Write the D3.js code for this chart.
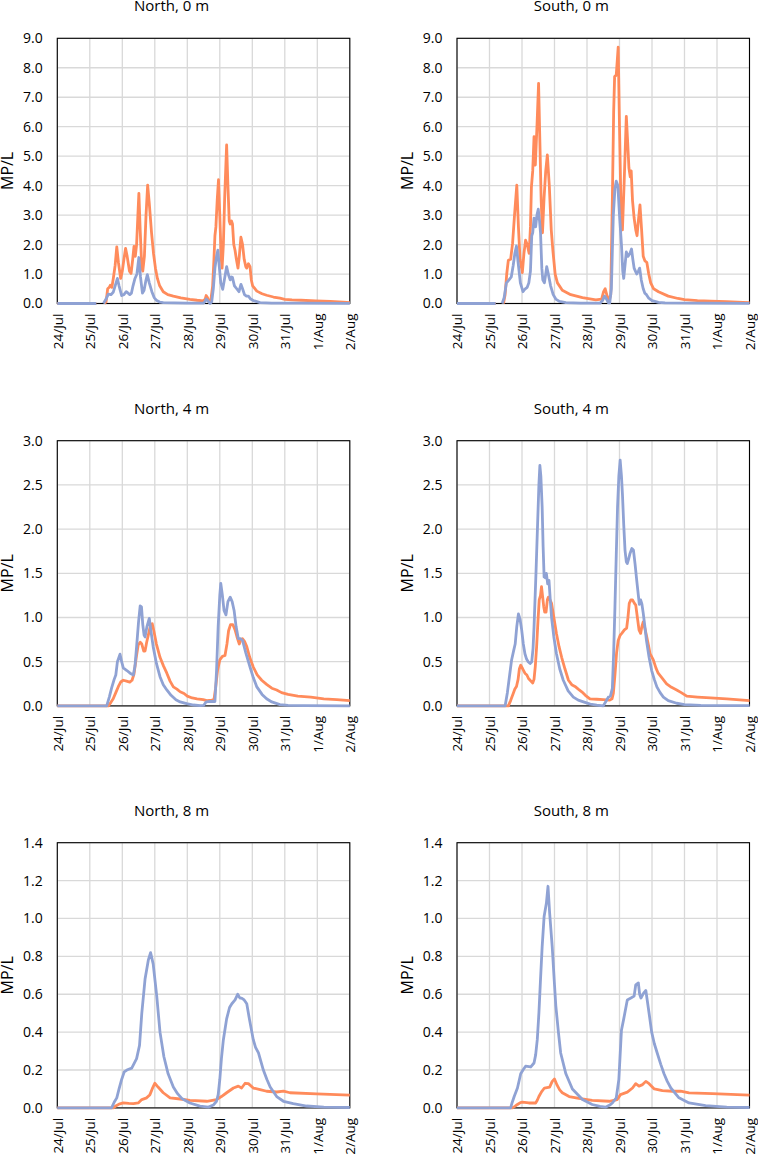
<!DOCTYPE html>
<html><head><meta charset="utf-8">
<script src="https://cdn.jsdelivr.net/npm/d3@7"></script>
<style>
body{margin:0;background:#fff}
text{font-family:"Open Sans",sans-serif;fill:#000}
</style>
</head><body>
<svg id="chart" width="758" height="1157"></svg>
<script>
// x values: days since 24/Jul 00:00
const dayLabels = ["24/Jul","25/Jul","26/Jul","27/Jul","28/Jul","29/Jul","30/Jul","31/Jul","1/Aug","2/Aug"];
const panelTitles = ["North, 0 m","South, 0 m","North, 4 m","South, 4 m","North, 8 m","South, 8 m"];
const yTicks0m = [0,1,2,3,4,5,6,7,8,9];
const yTicks4m = [0,0.5,1,1.5,2,2.5,3];
const yTicks8m = [0,0.2,0.4,0.6,0.8,1.0,1.2,1.4];
const yLabel = "MP/L";

const north0Orange = [[0,0],[1.2,0],[1.22,null],[1.45,0],[1.5,0.05],[1.55,0.5],[1.6,0.55],[1.63,0.62],[1.68,0.55],[1.73,0.9],[1.78,1.3],[1.83,1.92],[1.88,1.4],[1.95,0.85],[2.0,1.1],[2.05,1.5],[2.1,1.87],[2.15,1.6],[2.22,1.1],[2.27,1.02],[2.32,1.5],[2.36,1.94],[2.4,1.6],[2.44,2.0],[2.48,3.0],[2.51,3.74],[2.55,2.5],[2.6,1.2],[2.63,1.1],[2.68,1.6],[2.73,3.0],[2.78,4.02],[2.83,3.4],[2.9,2.4],[2.96,1.7],[3.02,1.2],[3.08,0.85],[3.15,0.6],[3.26,0.4],[3.4,0.3],[3.57,0.25],[3.8,0.19],[4.08,0.14],[4.3,0.11],[4.49,0.09],[4.55,0.15],[4.58,0.27],[4.62,0.2],[4.67,0.05],[4.72,0.08],[4.78,0.6],[4.82,1.5],[4.85,2.3],[4.88,2.6],[4.92,3.5],[4.96,4.2],[5.0,3.0],[5.04,1.6],[5.07,1.2],[5.11,2.0],[5.15,3.6],[5.21,5.38],[5.25,4.0],[5.29,2.8],[5.32,2.7],[5.36,2.8],[5.39,2.7],[5.43,2.0],[5.47,1.8],[5.51,1.5],[5.56,1.2],[5.6,1.6],[5.65,2.25],[5.7,2.0],[5.75,1.5],[5.8,1.25],[5.83,1.2],[5.88,1.35],[5.93,1.25],[5.97,0.8],[6.01,0.6],[6.14,0.42],[6.3,0.33],[6.44,0.28],[6.65,0.22],[6.85,0.18],[7.0,0.14],[7.22,0.12],[7.5,0.11],[7.95,0.09],[8.4,0.07],[8.8,0.05],[9.0,0.03]];
const north0Blue = [[0,0],[1.2,0],[1.22,null],[1.42,0],[1.5,0.15],[1.57,0.32],[1.65,0.3],[1.72,0.38],[1.78,0.6],[1.85,0.85],[1.9,0.6],[1.98,0.27],[2.05,0.3],[2.12,0.4],[2.18,0.35],[2.23,0.3],[2.28,0.35],[2.33,0.6],[2.39,0.85],[2.45,1.0],[2.51,1.56],[2.56,0.9],[2.62,0.35],[2.67,0.45],[2.72,0.75],[2.77,0.98],[2.83,0.7],[2.91,0.4],[2.98,0.2],[3.06,0.1],[3.15,0.05],[3.26,0.03],[3.6,0.02],[4.0,0.015],[4.5,0.01],[4.55,0.08],[4.58,0.15],[4.63,0.1],[4.7,0.0],[4.75,0.05],[4.8,0.5],[4.85,1.2],[4.9,1.6],[4.94,1.81],[4.98,1.3],[5.03,0.7],[5.09,0.48],[5.14,0.8],[5.21,1.25],[5.26,1.0],[5.32,0.8],[5.36,0.9],[5.39,0.88],[5.45,0.6],[5.52,0.5],[5.59,0.4],[5.65,0.65],[5.7,0.5],[5.76,0.3],[5.82,0.25],[5.88,0.25],[5.95,0.15],[6.03,0.1],[6.24,0.03],[6.6,0.015],[7.5,0.01],[9.0,0.005]];

const south0Orange = [[0,0],[1.19,0],[1.21,null],[1.43,0],[1.48,0.3],[1.53,1.0],[1.58,1.47],[1.65,1.5],[1.71,2.04],[1.77,3.0],[1.84,4.02],[1.89,2.6],[1.94,1.5],[2.01,1.05],[2.06,1.7],[2.11,2.15],[2.16,2.0],[2.22,1.7],[2.26,2.6],[2.29,3.96],[2.33,4.5],[2.37,5.66],[2.41,4.7],[2.46,6.0],[2.51,7.47],[2.55,5.5],[2.59,3.5],[2.63,2.4],[2.68,3.6],[2.73,4.5],[2.78,5.04],[2.84,4.0],[2.9,2.5],[2.95,1.8],[3.02,1.0],[3.09,0.7],[3.24,0.45],[3.5,0.3],[3.86,0.2],[4.27,0.12],[4.45,0.15],[4.51,0.4],[4.56,0.5],[4.62,0.25],[4.68,0.1],[4.73,0.3],[4.78,3.5],[4.82,6.5],[4.85,7.7],[4.9,7.75],[4.96,8.7],[5.0,6.0],[5.05,3.0],[5.09,2.5],[5.14,4.0],[5.21,6.35],[5.25,5.5],[5.29,4.6],[5.33,4.3],[5.36,4.5],[5.4,3.5],[5.45,2.9],[5.5,2.5],[5.54,2.3],[5.58,2.8],[5.63,3.35],[5.68,2.5],[5.73,1.6],[5.78,1.45],[5.84,1.4],[5.9,1.0],[5.96,0.7],[6.05,0.5],[6.2,0.4],[6.5,0.25],[6.8,0.17],[7.0,0.13],[7.4,0.1],[7.8,0.08],[8.3,0.06],[8.8,0.04],[9.0,0.03]];
const south0Blue = [[0,0],[1.19,0],[1.21,null],[1.39,0],[1.45,0.2],[1.52,0.7],[1.6,0.8],[1.67,0.9],[1.73,1.3],[1.78,1.7],[1.83,1.95],[1.88,1.4],[1.95,0.7],[2.03,0.4],[2.1,0.5],[2.16,0.55],[2.21,0.7],[2.26,1.1],[2.3,2.3],[2.33,2.4],[2.37,2.9],[2.42,2.6],[2.46,3.0],[2.5,3.2],[2.54,2.8],[2.57,2.4],[2.61,1.2],[2.64,0.8],[2.69,0.7],[2.73,1.0],[2.76,1.25],[2.81,1.0],[2.88,0.6],[2.96,0.3],[3.04,0.15],[3.15,0.07],[3.35,0.03],[3.8,0.015],[4.4,0.01],[4.48,0.1],[4.54,0.25],[4.6,0.15],[4.66,0.02],[4.7,0.02],[4.75,0.5],[4.78,1.8],[4.81,3.0],[4.86,3.9],[4.9,4.15],[4.95,4.0],[5.0,3.0],[5.06,2.0],[5.1,1.1],[5.13,0.85],[5.17,1.3],[5.21,1.75],[5.26,1.6],[5.32,1.7],[5.37,1.85],[5.41,1.5],[5.45,1.2],[5.49,1.1],[5.53,1.0],[5.58,1.1],[5.62,1.2],[5.67,0.8],[5.73,0.5],[5.78,0.35],[5.83,0.3],[5.9,0.18],[6.0,0.1],[6.2,0.04],[6.4,0.02],[7.5,0.01],[9.0,0.005]];

const north4Orange = [[0,0],[1.57,0],[1.65,0.04],[1.72,0.08],[1.8,0.15],[1.88,0.22],[1.95,0.27],[2.03,0.29],[2.13,0.28],[2.23,0.27],[2.3,0.29],[2.36,0.36],[2.43,0.55],[2.49,0.69],[2.55,0.72],[2.6,0.7],[2.66,0.62],[2.7,0.62],[2.75,0.72],[2.8,0.8],[2.86,0.9],[2.92,0.93],[2.97,0.85],[3.05,0.7],[3.16,0.55],[3.27,0.45],[3.37,0.37],[3.47,0.28],[3.57,0.215],[3.68,0.19],[3.78,0.16],[3.9,0.14],[4.0,0.11],[4.15,0.09],[4.3,0.08],[4.49,0.07],[4.6,0.06],[4.75,0.065],[4.82,0.07],[4.87,0.2],[4.93,0.4],[5.0,0.52],[5.08,0.56],[5.16,0.57],[5.22,0.7],[5.27,0.85],[5.33,0.92],[5.4,0.92],[5.47,0.86],[5.53,0.78],[5.6,0.7],[5.65,0.75],[5.7,0.76],[5.76,0.73],[5.83,0.67],[5.92,0.55],[6.03,0.44],[6.15,0.35],[6.29,0.29],[6.45,0.24],[6.6,0.2],[6.75,0.18],[6.9,0.15],[7.1,0.13],[7.4,0.11],[7.8,0.1],[8.2,0.08],[8.6,0.07],[9.0,0.06]];
const north4Blue = [[0,0],[1.52,0],[1.6,0.1],[1.67,0.2],[1.75,0.3],[1.8,0.35],[1.85,0.5],[1.93,0.585],[1.98,0.5],[2.03,0.43],[2.14,0.4],[2.24,0.37],[2.34,0.35],[2.39,0.45],[2.44,0.67],[2.5,0.95],[2.55,1.13],[2.59,1.12],[2.63,0.92],[2.67,0.8],[2.7,0.78],[2.76,0.9],[2.83,0.99],[2.88,0.85],[2.95,0.67],[3.05,0.48],[3.16,0.33],[3.26,0.24],[3.37,0.18],[3.5,0.12],[3.65,0.07],[3.78,0.045],[3.98,0.025],[4.19,0.01],[4.4,0.003],[4.5,0.005],[4.58,0.045],[4.7,0.05],[4.85,0.05],[4.9,0.4],[4.95,0.9],[5.0,1.25],[5.03,1.385],[5.08,1.25],[5.13,1.08],[5.19,1.03],[5.25,1.18],[5.32,1.23],[5.38,1.18],[5.44,1.08],[5.5,0.9],[5.57,0.76],[5.63,0.76],[5.7,0.74],[5.8,0.6],[5.93,0.44],[6.03,0.32],[6.14,0.215],[6.3,0.13],[6.44,0.08],[6.6,0.045],[6.85,0.015],[7.1,0.006],[7.6,0.002],[9.0,0.001]];

const south4Orange = [[0,0],[1.58,0],[1.65,0.06],[1.73,0.14],[1.78,0.19],[1.83,0.22],[1.88,0.3],[1.92,0.42],[1.96,0.46],[2.02,0.42],[2.09,0.37],[2.15,0.35],[2.2,0.31],[2.25,0.29],[2.33,0.26],[2.37,0.3],[2.41,0.45],[2.45,0.67],[2.49,0.95],[2.53,1.2],[2.57,1.25],[2.6,1.35],[2.63,1.25],[2.67,1.12],[2.7,1.06],[2.74,1.06],[2.78,1.2],[2.81,1.23],[2.86,1.2],[2.91,1.16],[2.98,1.0],[3.06,0.82],[3.14,0.67],[3.22,0.55],[3.32,0.42],[3.43,0.29],[3.53,0.24],[3.63,0.22],[3.73,0.19],[3.84,0.16],[3.95,0.12],[4.09,0.08],[4.3,0.075],[4.5,0.07],[4.7,0.065],[4.77,0.08],[4.81,0.14],[4.86,0.35],[4.91,0.6],[4.96,0.74],[5.02,0.8],[5.07,0.82],[5.15,0.86],[5.22,0.88],[5.26,1.0],[5.3,1.16],[5.35,1.2],[5.4,1.2],[5.46,1.16],[5.5,1.14],[5.55,1.0],[5.6,0.86],[5.65,0.82],[5.69,0.9],[5.73,0.95],[5.78,0.88],[5.84,0.78],[5.9,0.67],[5.94,0.59],[6.04,0.52],[6.12,0.43],[6.19,0.37],[6.3,0.32],[6.45,0.25],[6.6,0.21],[6.76,0.18],[6.9,0.15],[7.07,0.11],[7.4,0.1],[7.8,0.09],[8.3,0.08],[9.0,0.06]];
const south4Blue = [[0,0],[1.48,0],[1.55,0.15],[1.62,0.35],[1.68,0.52],[1.74,0.62],[1.79,0.7],[1.84,0.9],[1.89,1.04],[1.94,0.98],[1.99,0.86],[2.04,0.7],[2.09,0.59],[2.14,0.53],[2.19,0.5],[2.25,0.48],[2.3,0.5],[2.34,0.65],[2.37,0.89],[2.43,1.5],[2.48,2.06],[2.52,2.5],[2.55,2.72],[2.58,2.6],[2.62,2.25],[2.65,1.8],[2.68,1.46],[2.72,1.45],[2.75,1.5],[2.79,1.38],[2.83,1.42],[2.87,1.2],[2.91,1.0],[2.98,0.78],[3.06,0.59],[3.16,0.42],[3.27,0.29],[3.42,0.17],[3.58,0.1],[3.73,0.065],[3.89,0.045],[4.1,0.02],[4.3,0.008],[4.5,0.0],[4.58,0.05],[4.66,0.1],[4.72,0.11],[4.78,0.2],[4.82,0.6],[4.86,1.12],[4.9,1.7],[4.94,2.25],[4.98,2.6],[5.02,2.78],[5.06,2.6],[5.09,2.4],[5.13,2.05],[5.17,1.76],[5.21,1.63],[5.24,1.61],[5.28,1.66],[5.32,1.72],[5.38,1.78],[5.43,1.76],[5.48,1.6],[5.53,1.42],[5.58,1.25],[5.61,1.15],[5.65,1.2],[5.69,1.15],[5.73,1.05],[5.78,0.9],[5.83,0.74],[5.91,0.55],[5.99,0.4],[6.07,0.3],[6.15,0.215],[6.25,0.15],[6.35,0.1],[6.5,0.06],[6.76,0.03],[7.0,0.015],[7.5,0.005],[9.0,0.002]];

const north8Orange = [[0,0],[1.72,0],[1.8,0.01],[1.9,0.02],[2.03,0.026],[2.2,0.024],[2.34,0.023],[2.49,0.026],[2.6,0.044],[2.75,0.053],[2.85,0.07],[2.92,0.1],[3.0,0.13],[3.1,0.11],[3.26,0.08],[3.47,0.053],[3.78,0.047],[4.08,0.04],[4.6,0.035],[4.9,0.044],[5.05,0.06],[5.21,0.08],[5.42,0.105],[5.57,0.115],[5.67,0.105],[5.78,0.13],[5.88,0.128],[6.03,0.105],[6.24,0.097],[6.44,0.088],[6.75,0.084],[6.96,0.088],[7.16,0.08],[7.98,0.074],[9.0,0.067]];
const north8Blue = [[0,0],[1.67,0],[1.75,0.03],[1.83,0.053],[1.9,0.1],[1.98,0.15],[2.06,0.19],[2.14,0.2],[2.29,0.21],[2.44,0.26],[2.53,0.33],[2.6,0.5],[2.7,0.68],[2.8,0.78],[2.87,0.82],[2.95,0.76],[3.06,0.59],[3.16,0.4],[3.28,0.27],[3.41,0.18],[3.57,0.11],[3.7,0.075],[3.83,0.05],[4.08,0.026],[4.39,0.009],[4.65,0.004],[4.8,0.015],[4.9,0.035],[4.95,0.07],[5.0,0.15],[5.05,0.26],[5.11,0.36],[5.21,0.47],[5.3,0.53],[5.37,0.55],[5.47,0.57],[5.55,0.6],[5.58,0.59],[5.62,0.58],[5.67,0.58],[5.75,0.57],[5.83,0.55],[5.91,0.47],[6.03,0.36],[6.1,0.32],[6.19,0.29],[6.34,0.2],[6.45,0.15],[6.55,0.11],[6.75,0.06],[6.96,0.035],[7.26,0.023],[7.67,0.01],[8.2,0.004],[9.0,0.002]];

const south8Orange = [[0,0],[1.7,0],[1.78,0.008],[1.86,0.018],[1.95,0.028],[2.01,0.03],[2.21,0.026],[2.42,0.026],[2.47,0.04],[2.52,0.06],[2.6,0.085],[2.69,0.105],[2.85,0.11],[2.93,0.14],[3.0,0.153],[3.08,0.12],[3.16,0.095],[3.24,0.08],[3.45,0.06],[3.75,0.05],[4.16,0.04],[4.68,0.035],[4.93,0.044],[5.03,0.07],[5.24,0.083],[5.4,0.105],[5.5,0.128],[5.6,0.115],[5.71,0.123],[5.81,0.14],[5.91,0.128],[6.07,0.1],[6.32,0.091],[6.63,0.088],[6.88,0.088],[7.14,0.079],[7.86,0.075],[9.0,0.067]];
const south8Blue = [[0,0],[1.65,0],[1.7,0.03],[1.76,0.06],[1.86,0.105],[1.92,0.15],[1.96,0.18],[2.03,0.2],[2.11,0.22],[2.27,0.216],[2.37,0.237],[2.42,0.28],[2.47,0.36],[2.52,0.5],[2.57,0.68],[2.62,0.85],[2.68,1.01],[2.75,1.08],[2.8,1.17],[2.85,1.03],[2.93,0.85],[3.0,0.65],[3.04,0.54],[3.12,0.4],[3.19,0.29],[3.35,0.18],[3.55,0.1],[3.86,0.044],[4.16,0.018],[4.4,0.008],[4.57,0.004],[4.7,0.015],[4.78,0.026],[4.9,0.053],[4.98,0.15],[5.06,0.41],[5.13,0.47],[5.24,0.57],[5.35,0.58],[5.45,0.59],[5.5,0.65],[5.58,0.66],[5.62,0.6],[5.66,0.58],[5.72,0.6],[5.76,0.61],[5.81,0.62],[5.86,0.56],[5.91,0.5],[5.99,0.4],[6.07,0.34],[6.16,0.29],[6.27,0.23],[6.37,0.18],[6.47,0.14],[6.58,0.105],[6.83,0.053],[7.14,0.026],[7.65,0.012],[8.3,0.004],[9.0,0.002]];

const panels = [
  {title: panelTitles[0], ticks: yTicks0m, a: north0Orange, b: north0Blue},
  {title: panelTitles[1], ticks: yTicks0m, a: south0Orange, b: south0Blue},
  {title: panelTitles[2], ticks: yTicks4m, a: north4Orange, b: north4Blue},
  {title: panelTitles[3], ticks: yTicks4m, a: south4Orange, b: south4Blue},
  {title: panelTitles[4], ticks: yTicks8m, a: north8Orange, b: north8Blue},
  {title: panelTitles[5], ticks: yTicks8m, a: south8Orange, b: south8Blue}
];

const colA = "#FF8B5B", colB = "#8FA2D4", gridCol = "#D9D9D9";
const colLeft = [57.3, 457], plotW = 292.5;
const rowTop = [38.3, 440.7, 842.7], plotH = 265.2;

const svg = d3.select("#chart");

panels.forEach((p, i) => {
  const left = colLeft[i % 2], top = rowTop[Math.floor(i / 2)];
  const g = svg.append("g").attr("transform", `translate(${left},${top})`);
  const x = d3.scaleLinear().domain([0, dayLabels.length - 1]).range([0, plotW]);
  const y = d3.scaleLinear().domain([0, p.ticks[p.ticks.length - 1]]).range([plotH, 0]);

  // gridlines
  g.append("g").selectAll("line.h").data(p.ticks).join("line")
    .attr("x1", 0).attr("x2", plotW).attr("y1", d => y(d)).attr("y2", d => y(d))
    .attr("stroke", gridCol).attr("stroke-width", 1.3);
  g.append("g").selectAll("line.v").data(d3.range(dayLabels.length)).join("line")
    .attr("x1", d => x(d)).attr("x2", d => x(d)).attr("y1", 0).attr("y2", plotH)
    .attr("stroke", gridCol).attr("stroke-width", 1.3);

  // border
  g.append("rect").attr("x", 0).attr("y", 0).attr("width", plotW).attr("height", plotH)
    .attr("fill", "none").attr("stroke", "#000").attr("stroke-width", 1.1);

  // y axis
  const ya = g.append("g").call(d3.axisLeft(y).tickValues(p.ticks).tickFormat(d3.format(".1f")).tickSize(0).tickPadding(14.5));
  ya.select(".domain").remove();
  ya.selectAll("text").attr("font-size", 14).attr("font-family", "Open Sans").attr("fill", "#000");

  // x axis
  const xa = g.append("g").attr("transform", `translate(0,${plotH})`)
    .call(d3.axisBottom(x).tickValues(d3.range(dayLabels.length)).tickFormat(d => dayLabels[d]).tickSize(0));
  xa.select(".domain").remove();
  xa.selectAll("text").attr("font-size", 13.5).attr("font-family", "Open Sans").attr("fill", "#000")
    .attr("text-anchor", "end").attr("transform", "rotate(-90)")
    .attr("x", -10).attr("y", 0).attr("dy", "0.35em");

  // lines
  const line = d3.line().defined(d => d[1] !== null).x(d => x(d[0])).y(d => y(d[1]));
  g.append("path").datum(p.a).attr("d", line).attr("fill", "none")
    .attr("stroke", colA).attr("stroke-width", 2.8).attr("stroke-linejoin", "round");
  g.append("path").datum(p.b).attr("d", line).attr("fill", "none")
    .attr("stroke", colB).attr("stroke-width", 2.8).attr("stroke-linejoin", "round");

  // title
  g.append("text").attr("x", plotW / 2 - 32).attr("y", -27).attr("text-anchor", "middle")
    .attr("font-size", 15).text(p.title);
  // y label
  g.append("text").attr("transform", `translate(-44,${plotH / 2}) rotate(-90)`)
    .attr("text-anchor", "middle").attr("font-size", 16).text(yLabel);
});
</script>
</body></html>
